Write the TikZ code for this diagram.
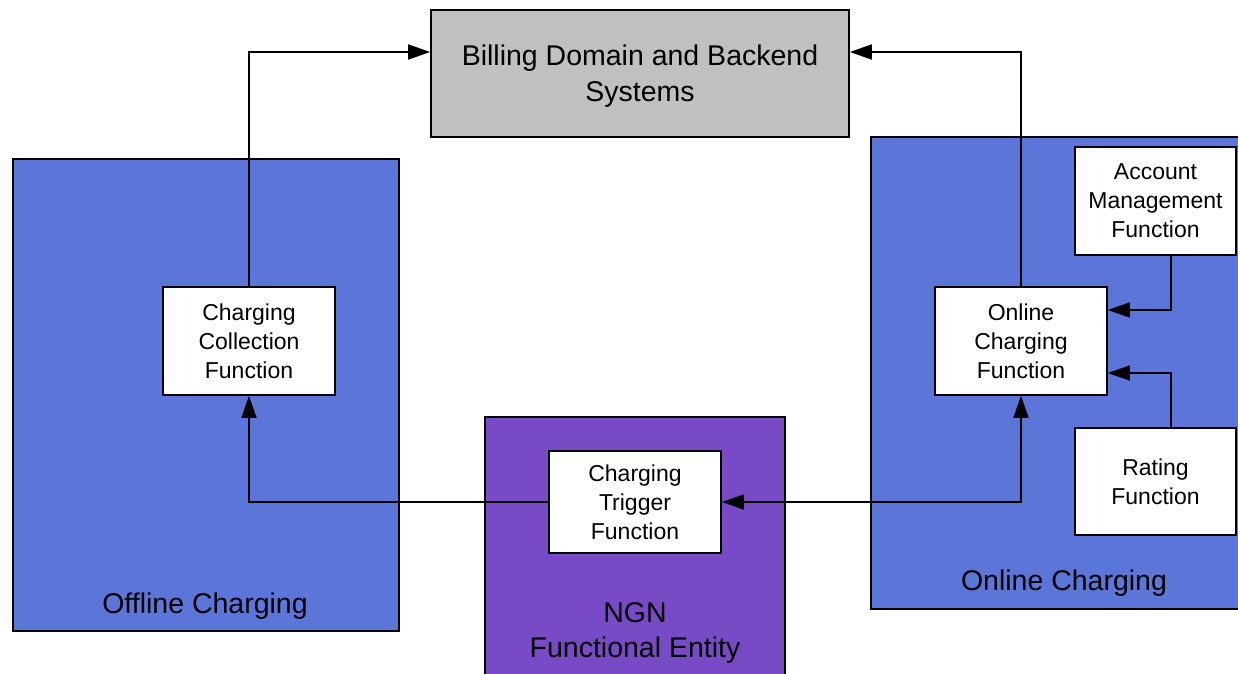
\documentclass[tikz,border=0pt]{standalone}
\usepackage{fontspec}
\setmainfont{Liberation Sans}
\usetikzlibrary{arrows.meta,calc}
\tikzstyle{every picture}=[line width=1.6bp,>={Triangle[length=22bp,width=15bp]}]
\definecolor{billgray}{RGB}{192,192,192}
\definecolor{chargeblue}{RGB}{91,118,216}
\definecolor{ngnpurple}{RGB}{120,74,198}
\tikzstyle{areabox}=[draw,rectangle,inner sep=0pt]
\tikzstyle{func}=[draw,rectangle,fill=white,inner sep=0pt,align=center,
    font=\fontsize{23bp}{29bp}\selectfont]
\tikzstyle{biglabel}=[align=center,font=\fontsize{28.5bp}{35.5bp}\selectfont]

\begin{document}
\begin{tikzpicture}[x=1bp,y=-1bp]
            \useasboundingbox (0,0) rectangle (1238,674);
            \clip (0,0) rectangle (1238,674);

            \node[areabox,fill=billgray,minimum width=418bp,minimum height=127bp]
                (billing) at (640,73.5) {};
            \node[areabox,fill=chargeblue,minimum width=386bp,minimum height=472bp]
                (offline) at (206,395) {};
            \node[areabox,fill=chargeblue,minimum width=379bp,minimum height=472bp]
                (online) at (1060.5,373) {};
            \node[areabox,fill=ngnpurple,minimum width=300bp,minimum height=273bp]
                (ngn) at (635,553.5) {};

            \node[biglabel] (billinglbl) at (640,76) {Billing Domain and Backend\\Systems};
            \node[biglabel] (offlinelbl) at (205,606.5) {Offline Charging};
            \node[biglabel] (onlinelbl) at (1064,583.5) {Online Charging};
            \node[biglabel] (ngnlbl) at (635,633) {NGN\\Functional Entity};

            \node[func,minimum width=172bp,minimum height=108bp] (ccf) at (249,341)
                {Charging\\Collection\\Function};
            \node[func,minimum width=172bp,minimum height=108bp] (ocf) at (1021,341)
                {Online\\Charging\\Function};
            \node[func,minimum width=161bp,minimum height=108bp] (amf) at (1155.5,201)
                {Account\\Management\\Function};
            \node[func,minimum width=161bp,minimum height=107bp] (rf) at (1155.5,481.5)
                {Rating\\Function};
            \node[func,minimum width=172bp,minimum height=102bp] (ctf) at (635,502)
                {Charging\\Trigger\\Function};

            \coordinate (billin) at ([yshift=21.5bp]billing.west);
            \coordinate (billout) at ([yshift=21.5bp]billing.east);
            \coordinate (ocfup) at ([yshift=31bp]ocf.east);
            \coordinate (ocfdown) at ([yshift=-32bp]ocf.east);

            \draw[->] (ccf.north) |- (billin);
            \draw[->] (ocf.north) |- (billout);
            \draw[->] (ctf.west) -| (ccf.south);
            \draw[<->] (ctf.east) -| (ocf.south);
            \draw[->] ([xshift=15.5bp]amf.south) |- (ocfup);
            \draw[->] ([xshift=15.5bp]rf.north) |- (ocfdown);
        \end{tikzpicture}
\end{document}
